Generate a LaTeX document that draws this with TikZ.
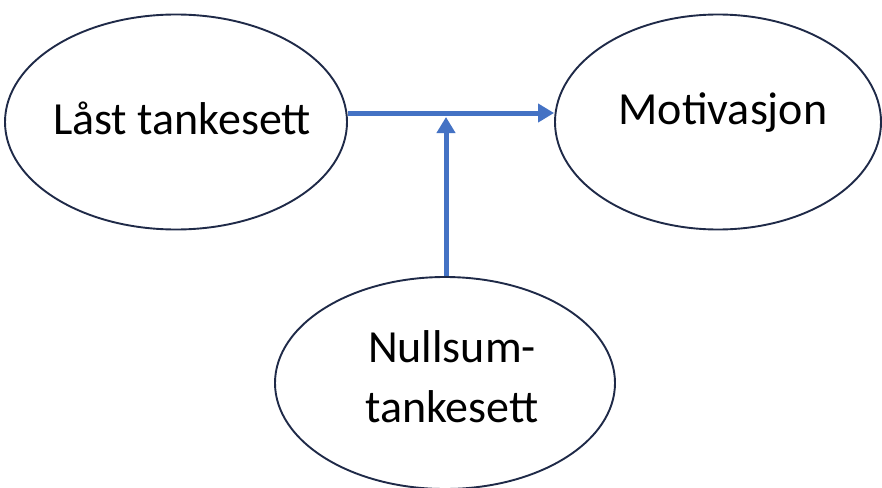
\documentclass[tikz,border=0pt]{standalone}
\usepackage{fontspec}
\setmainfont{Carlito}
\usetikzlibrary{shapes.geometric,arrows.meta}
\definecolor{edgeblue}{HTML}{4472C4}
\definecolor{rimnavy}{HTML}{1F2A48}
\tikzset{
  oval/.style={ellipse, draw=rimnavy, line width=1.9pt, fill=white, inner sep=0pt},
  lbl/.style={font=\fontsize{46}{60}\selectfont, text=black, align=center, inner sep=0pt},
  conn/.style={draw=edgeblue, line width=5pt, -{Triangle[length=16pt,width=18pt]}}
}
\begin{document}
\begin{tikzpicture}[x=1pt,y=-1pt]
\useasboundingbox (0,0) rectangle (882,487);
\fill[white] (0,0) rectangle (882,487);
\node[oval, minimum width=342pt, minimum height=215pt] (L) at (176,122) {};
\node[oval, minimum width=326pt, minimum height=215pt] (M) at (718,122) {};
\node[oval, minimum width=340pt, minimum height=212pt] (N) at (445,383) {};
\node[lbl] (tL) at (182,118) {Låst tankesett};
\node[lbl] (tM) at (723,113) {Motivasjon};
\node[lbl] (tN) at (452,377) {Nullsum-\\tankesett};
\coordinate (J) at (446,113);
\coordinate (Jt) at (446,117);
\draw[conn] (L.east |- J) -- (M.west |- J);
\draw[conn] (N.north -| J) -- (Jt);
\end{tikzpicture}
\end{document}
